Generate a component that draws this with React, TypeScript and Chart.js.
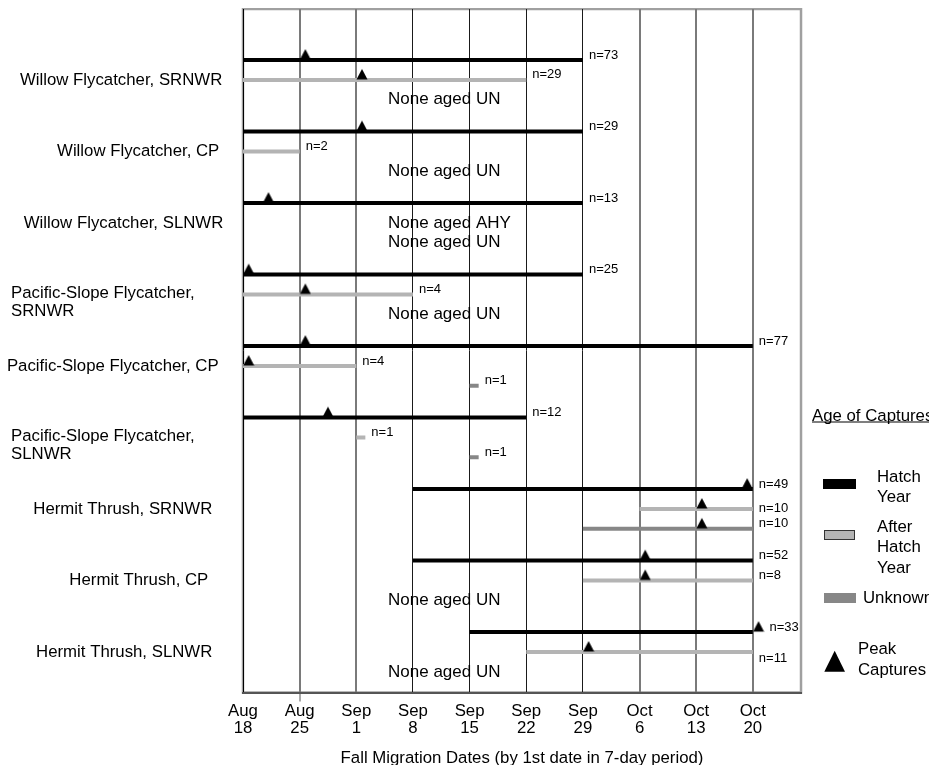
import React, { useEffect, useRef } from "react";
import { Chart, registerables } from "chart.js";

Chart.register(...registerables);

const FONT = '"Liberation Sans", Arial, Helvetica, sans-serif';

// ---- axis / category data ----
const WEEK_LABELS: string[][] = [
  ["Aug", "18"], ["Aug", "25"], ["Sep", "1"], ["Sep", "8"], ["Sep", "15"],
  ["Sep", "22"], ["Sep", "29"], ["Oct", "6"], ["Oct", "13"], ["Oct", "20"],
];
const X_TITLE = "Fall Migration Dates (by 1st date in 7-day period)";

const GROUP_LABELS: string[][] = [
  ["Willow Flycatcher, SRNWR"],
  ["Willow Flycatcher, CP"],
  ["Willow Flycatcher, SLNWR"],
  ["Pacific-Slope Flycatcher,", "SRNWR"],
  ["Pacific-Slope Flycatcher, CP"],
  ["Pacific-Slope Flycatcher,", "SLNWR"],
  ["Hermit Thrush, SRNWR"],
  ["Hermit Thrush, CP"],
  ["Hermit Thrush, SLNWR"],
];

// ---- capture spans (x in weeks from Aug 18) ----
const ROW_GROUP = [0, 0, 1, 1, 2, 3, 3, 4, 4, 4, 5, 5, 5, 6, 6, 6, 7, 7, 8, 8];
const ROW_SLOT = [0, 1, 0, 1, 0, 0, 1, 0, 1, 2, 0, 1, 2, 0, 1, 2, 0, 1, 0, 1];
const ROW_AGE = ["HY", "AHY", "HY", "AHY", "HY", "HY", "AHY", "HY", "AHY", "UN", "HY", "AHY", "UN", "HY", "AHY", "UN", "HY", "AHY", "HY", "AHY"];
const ROW_START = [0, 0, 0, 0, 0, 0, 0, 0, 0, 4, 0, 2, 4, 3, 7, 6, 3, 6, 4, 5];
const ROW_END = [6, 5, 6, 1, 6, 6, 3, 9, 2, 4.16, 5, 2.16, 4.16, 9, 9, 9, 9, 9, 9, 9];
const ROW_PEAK: (number | null)[] = [1.1, 2.1, 2.1, null, 0.45, 0.1, 1.1, 1.1, 0.1, null, 1.5, null, null, 8.9, 8.1, 8.1, 7.1, 7.1, 9.1, 6.1];
const ROW_N = [73, 29, 29, 2, 13, 25, 4, 77, 4, 1, 12, 1, 1, 49, 10, 10, 52, 8, 33, 11];

// ---- "None aged" notes ----
const NOTE_GROUP = [0, 1, 2, 2, 3, 7, 8];
const NOTE_SLOT = [2, 2, 1, 2, 2, 2, 2];
const NOTE_TEXT = ["None aged UN", "None aged UN", "None aged AHY", "None aged UN", "None aged UN", "None aged UN", "None aged UN"];
const NOTE_X = 2.56;

// ---- layout / style constants ----
const X_MAX = 9.85;
const GROUP_STEP = 3.6;
const Y_MIN = -2.57;
const Y_MAX = 31.84;
const AGE_COLOR: Record<string, string> = { HY: "#000000", AHY: "#b4b4b4", UN: "#878787" };
const N_LABEL_DY: Record<number, number> = { 14: -1, 19: 6 };
const LABEL_INSET = [20.7, 23.7, 19.7, 0, 24.4, 0, 30.7, 34.7, 30.7];
const SOFT_GRID = [1, 2, 7, 8, 9];
const BIG = 16.8;

const rowY = (i: number) => ROW_GROUP[i] * GROUP_STEP + ROW_SLOT[i];

function makeTriangle(): HTMLCanvasElement {
  const c = document.createElement("canvas");
  c.width = 12;
  c.height = 24;
  const g = c.getContext("2d")!;
  g.fillStyle = "#000";
  g.beginPath();
  g.moveTo(6, 1);
  g.lineTo(11.5, 11.5);
  g.lineTo(0.5, 11.5);
  g.closePath();
  g.fill();
  return c;
}

const framePlugin = {
  id: "frame",
  beforeDraw(chart: any) {
    const { ctx, chartArea: a } = chart;
    ctx.save();
    ctx.strokeStyle = "#a0a0a0";
    ctx.lineWidth = 2.5;
    ctx.strokeRect(a.left, a.top, a.right - a.left, a.bottom - a.top);
    ctx.restore();
  },
};

const textPlugin = {
  id: "texts",
  afterDatasetsDraw(chart: any) {
    const { ctx, chartArea: a } = chart;
    const x = chart.scales.x;
    const y = chart.scales.y;
    ctx.save();
    ctx.fillStyle = "#000";
    ctx.textBaseline = "middle";

    // n labels
    ctx.font = `13px ${FONT}`;
    ctx.textAlign = "left";
    ROW_N.forEach((n, i) => {
      const peak = ROW_PEAK[i];
      const px = peak != null && peak > ROW_END[i]
        ? x.getPixelForValue(peak) + 11
        : x.getPixelForValue(ROW_END[i]) + 6;
      const dy = N_LABEL_DY[i] ?? -5;
      ctx.fillText(`n=${n}`, px, y.getPixelForValue(rowY(i)) + dy);
    });

    // None aged notes
    ctx.font = `17px ${FONT}`;
    NOTE_TEXT.forEach((t, i) => {
      ctx.fillText(t, x.getPixelForValue(NOTE_X), y.getPixelForValue(NOTE_GROUP[i] * GROUP_STEP + NOTE_SLOT[i]));
    });

    // group labels
    ctx.font = `${BIG}px ${FONT}`;
    GROUP_LABELS.forEach((lines, g) => {
      if (lines.length === 1) {
        ctx.textAlign = "right";
        ctx.fillText(lines[0], a.left - LABEL_INSET[g], y.getPixelForValue(g * GROUP_STEP + 1));
      } else {
        ctx.textAlign = "left";
        const cy = y.getPixelForValue(g * GROUP_STEP + 1.4);
        const lh = 18.4;
        lines.forEach((l, k) => {
          ctx.fillText(l, 3, cy + (k - (lines.length - 1) / 2) * lh);
        });
      }
    });
    ctx.restore();
  },
  afterDraw(chart: any) {
    const { ctx, chartArea: a } = chart;
    const R = a.right;
    ctx.save();
    ctx.fillStyle = "#000";
    ctx.textBaseline = "middle";
    ctx.textAlign = "left";
    ctx.font = `${BIG}px ${FONT}`;
    const title = "Age of Captures";
    ctx.fillText(title, R + 11, 408);
    const w = ctx.measureText(title).width;
    ctx.fillRect(R + 11, 413.5, w, 1);

    // Hatch Year
    ctx.fillStyle = AGE_COLOR.HY;
    ctx.fillRect(R + 22, 471, 33, 10);
    ctx.fillStyle = "#000";
    ctx.fillText("Hatch", R + 76, 469);
    ctx.fillText("Year", R + 76, 489);

    // After Hatch Year
    ctx.fillStyle = AGE_COLOR.AHY;
    ctx.fillRect(R + 23, 522, 31, 9.5);
    ctx.strokeStyle = "#333";
    ctx.lineWidth = 1;
    ctx.strokeRect(R + 23.5, 522.5, 30, 9);
    ctx.fillStyle = "#000";
    ctx.fillText("After", R + 76, 519);
    ctx.fillText("Hatch", R + 76, 539);
    ctx.fillText("Year", R + 76, 560);

    // Unknown
    ctx.fillStyle = AGE_COLOR.UN;
    ctx.fillRect(R + 23, 585, 32, 10);
    ctx.fillStyle = "#000";
    ctx.fillText("Unknown", R + 62, 590);

    // Peak captures
    ctx.beginPath();
    ctx.moveTo(R + 33.7, 642.7);
    ctx.lineTo(R + 44, 663.7);
    ctx.lineTo(R + 23.3, 663.7);
    ctx.closePath();
    ctx.fill();
    ctx.fillText("Peak", R + 57, 641);
    ctx.fillText("Captures", R + 57, 662);
    ctx.restore();
  },
};

export default function App() {
  const ref = useRef<HTMLCanvasElement | null>(null);

  useEffect(() => {
    if (!ref.current) return;
    Chart.defaults.font.family = FONT;
    Chart.defaults.color = "#000";

    const tri = makeTriangle();
    const peakData: { x: number; y: number }[] = [];
    ROW_PEAK.forEach((p, i) => {
      if (p != null) peakData.push({ x: p, y: rowY(i) });
    });

    const datasets: any[] = [
      {
        type: "scatter",
        label: "Peak Captures",
        data: peakData,
        pointStyle: tri,
        pointRadius: 6,
        showLine: false,
        clip: false,
      },
    ];
    ROW_N.forEach((_, i) => {
      datasets.push({
        type: "line",
        label: `row${i}`,
        data: [
          { x: ROW_START[i], y: rowY(i) },
          { x: ROW_END[i], y: rowY(i) },
        ],
        borderColor: AGE_COLOR[ROW_AGE[i]],
        borderWidth: 4,
        borderCapStyle: "butt",
        pointRadius: 0,
        fill: false,
        tension: 0,
      });
    });

    const chart = new Chart(ref.current, {
      type: "line",
      data: { datasets },
      options: {
        animation: false,
        responsive: false,
        events: [],
        layout: { autoPadding: false, padding: { left: 235, right: 128, top: 1, bottom: 0 } },
        plugins: { legend: { display: false }, tooltip: { enabled: false } },
        scales: {
          x: {
            type: "linear",
            min: 0,
            max: X_MAX,
            afterBuildTicks: (s: any) => {
              s.ticks = WEEK_LABELS.map((_, i) => ({ value: i }));
            },
            afterFit: (s: any) => {
              s.height = 72.5;
            },
            ticks: {
              autoSkip: false,
              maxRotation: 0,
              padding: 1,
              color: "#000",
              font: { family: FONT, size: BIG, lineHeight: 1.03 },
              callback: (_v: any, i: number) => WEEK_LABELS[i],
            },
            grid: {
              color: (c: any) => (c.index === 0 ? "#000" : SOFT_GRID.includes(c.index) ? "#7a7a7a" : "#1a1a1a"),
              lineWidth: (c: any) => (SOFT_GRID.includes(c.index) ? 2 : 1),
              drawTicks: true,
              tickLength: 9,
              tickWidth: 1,
              tickColor: (c: any) => (c.index === 1 ? "#555" : "rgba(0,0,0,0)"),
            },
            border: { display: true, color: "#555", width: 2 },
            title: {
              display: true,
              text: X_TITLE,
              color: "#000",
              font: { family: FONT, size: BIG, lineHeight: 0.8 },
              padding: { top: 0, bottom: 0 },
            },
          },
          y: { type: "linear", display: false, min: Y_MIN, max: Y_MAX, reverse: true },
        },
      } as any,
      plugins: [framePlugin, textPlugin],
    });
    return () => chart.destroy();
  }, []);

  return (
    <div style={{ width: 921, height: 757 }}>
      <canvas ref={ref} width={921} height={757} style={{ display: "block" }} />
    </div>
  );
}
